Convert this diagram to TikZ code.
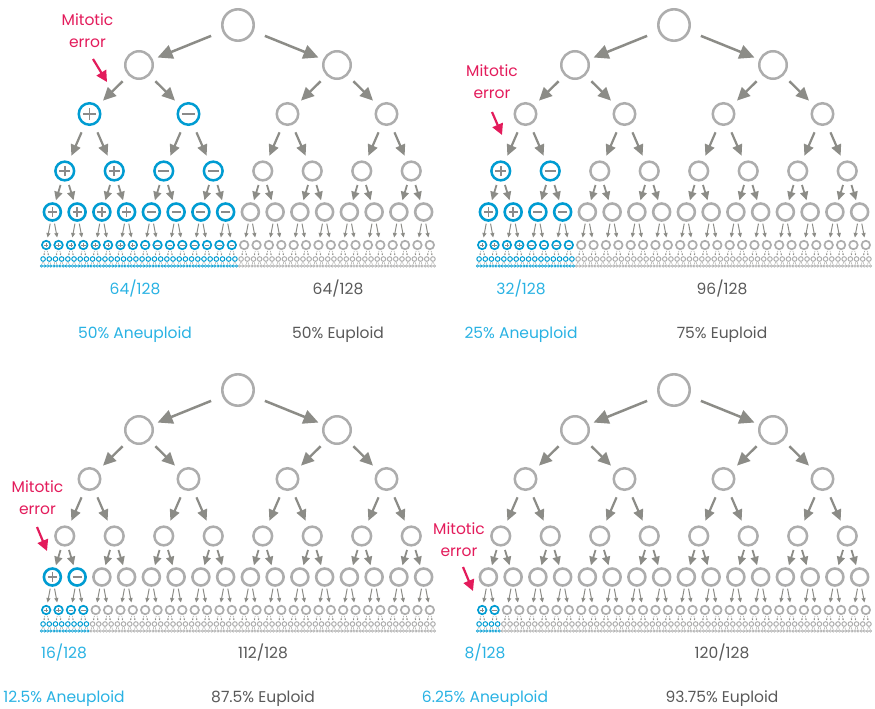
\documentclass[tikz,border=0pt]{standalone}
\usepackage{fontspec}
\setmainfont{Poppins}
\usetikzlibrary{arrows.meta}

\definecolor{cellgray}{HTML}{ADADAD}
\definecolor{cellblue}{HTML}{009CD2}
\definecolor{arrowgray}{HTML}{8C8C87}
\definecolor{signgray}{HTML}{8A8A8A}
\definecolor{textblue}{HTML}{29B2E3}
\definecolor{textgray}{HTML}{595959}
\definecolor{errred}{HTML}{E31B5B}

\tikzset{
  cell/.style={circle,inner sep=0pt,draw=cellgray},
  cell0/.style={cell,minimum size=31.4pt,line width=2.6pt},
  cell1/.style={cell,minimum size=27.5pt,line width=2.5pt},
  cell2/.style={cell,minimum size=21.5pt,line width=2.5pt},
  cell3/.style={cell,minimum size=18.7pt,line width=2.5pt},
  cell4/.style={cell,minimum size=17pt,line width=2.6pt},
  cell5/.style={cell,minimum size=8.5pt,line width=1.7pt},
  cell6/.style={cell,minimum size=4.6pt,line width=1pt},
  cell7/.style={cell,minimum size=2.4pt,line width=.6pt},
  link/.style={draw=arrowgray},
  arr1/.style={link,line width=2.5pt,-{Triangle[length=15pt,width=14pt]},shorten <=12pt,shorten >=5pt},
  arr2/.style={link,line width=2.4pt,-{Triangle[length=13pt,width=12pt]},shorten <=8pt,shorten >=7pt},
  arr3/.style={link,line width=2.2pt,-{Triangle[length=11pt,width=10pt]},shorten <=8pt,shorten >=6pt},
  arr4/.style={link,line width=1.8pt,-{Triangle[length=8.5pt,width=8pt]},shorten <=4pt,shorten >=2.5pt},
  arr5/.style={link,line width=1pt,-{Triangle[length=4.5pt,width=4pt]},shorten <=2pt,shorten >=2.5pt},
  arr6/.style={link,line width=.5pt,dash pattern=on 1pt off .8pt,-{Triangle[length=1.6pt,width=1.6pt]},shorten <=1pt,shorten >=1pt},
  arr7/.style={link,line width=.35pt,shorten <=.5pt,shorten >=.3pt},
  sign/.style={draw=signgray,line cap=butt},
  basetext/.style={font=\fontsize{15.5}{18}\selectfont,inner sep=0pt,anchor=base},
  errtext/.style={basetext,text=errred},
  errarrow/.style={draw=errred,line width=2.2pt,-{Triangle[length=11pt,width=11pt]}}
}

\begin{document}
\begin{tikzpicture}[x=1pt,y=-1pt]
\useasboundingbox (0,0) rectangle (875,709);

% four trees, error at level \e
\foreach \p/\px/\py/\e in {tl/40/0/1, tr/476/0/2, bl/40/365/3, br/476/365/4} {
  \foreach \k in {0,...,7} {
    \pgfmathtruncatemacro\n{2^\k-1}
    \pgfmathsetmacro\yl{{25,65,114,171,212,245,259,266}[\k]}
    \pgfmathsetmacro\yy{\py+\yl}
    \foreach \i in {0,...,\n} {
      \pgfmathsetmacro\xx{\px+(2*\i+1)/2^\k*198}
      \pgfmathtruncatemacro\blue{(\k>\e)*(\i<2^max(\k-\e,0))}
      \pgfmathtruncatemacro\plus{\i<2^max(\k-\e-1,0)}
      \ifnum\blue=1 \def\cc{cellblue}\else\def\cc{cellgray}\fi
      \node[cell\k,draw=\cc] (\p-\k-\i) at (\xx,\yy) {};
      \ifnum\blue=1 \ifnum\k<6
        \pgfmathsetmacro\a{{0,0,6.2,5.4,4.6,2.3}[\k]}
        \pgfmathsetmacro\sw{{0,0,1.8,1.6,1.3,.7}[\k]}
        \draw[sign,line width=\sw pt] ([xshift=-\a pt]\p-\k-\i.center) -- ([xshift=\a pt]\p-\k-\i.center);
        \ifnum\plus=1
          \draw[sign,line width=\sw pt] ([yshift=-\a pt]\p-\k-\i.center) -- ([yshift=\a pt]\p-\k-\i.center);
        \fi
      \fi\fi
    }
  }
  % division arrows
  \foreach \k in {1,...,7} {
    \pgfmathtruncatemacro\n{2^\k-1}
    \pgfmathtruncatemacro\kp{\k-1}
    \foreach \i in {0,...,\n} {
      \pgfmathtruncatemacro\j{floor(\i/2)}
      \draw[arr\k] (\p-\kp-\j) -- (\p-\k-\i);
    }
  }
}

% mitotic error labels
\foreach \p/\mx/\my/\ax/\ay/\bx/\by in {tl/87.5/26/93/59/107/82, tr/492/77/492/112/502/135,
    bl/37.5/492/37/527/47/551, br/459/534/463/567/473/591} {
  \node[errtext] (\p-mit) at (\mx,\my) {Mitotic};
  \node[errtext] (\p-err) at (\mx,\my+22) {error};
  \coordinate (\p-tail) at (\ax,\ay);
  \coordinate (\p-tip) at (\bx,\by);
  \draw[errarrow] (\p-tail) -- (\p-tip);
}

% counts and percentages
\foreach \p/\ax/\bx/\py/\fa/\fb/\pa/\pb in {tl/135/338/0/64/64/50/50, tr/521/722/0/32/96/25/75,
    bl/64/263/364/16/112/12.5/87.5, br/485/722/364/8/120/6.25/93.75} {
  \node[basetext,text=textblue] (\p-frac-a) at (\ax,\py+294) {\fa/128};
  \node[basetext,text=textgray] (\p-frac-e) at (\bx,\py+294) {\fb/128};
  \node[basetext,text=textblue] (\p-pct-a) at (\ax,\py+338) {\pa\% Aneuploid};
  \node[basetext,text=textgray] (\p-pct-e) at (\bx,\py+338) {\pb\% Euploid};
}
\end{tikzpicture}
\end{document}
